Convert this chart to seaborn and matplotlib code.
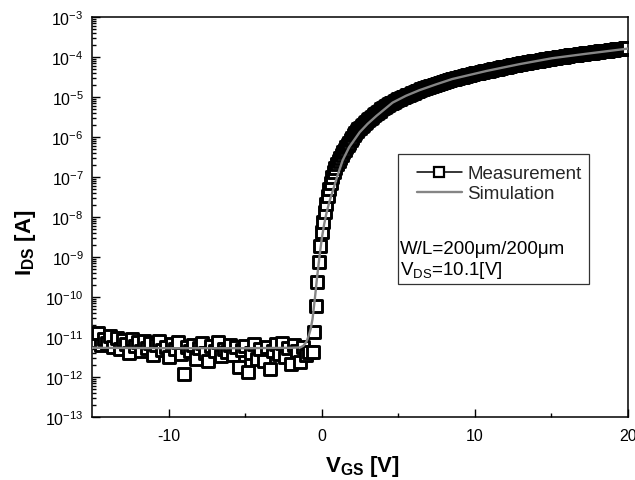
import numpy as np
import pandas as pd
import matplotlib
matplotlib.use("Agg")
import matplotlib.pyplot as plt
import seaborn as sns
from matplotlib.lines import Line2D
from matplotlib.patches import Rectangle
from matplotlib.ticker import LogLocator, NullFormatter, LogFormatterMathtext, FixedLocator

sns.set_theme(style="white")
plt.rcParams["font.family"] = ["Liberation Sans", "DejaVu Sans"]
plt.rcParams["mathtext.fontset"] = "custom"
plt.rcParams["mathtext.rm"] = "Liberation Sans"
plt.rcParams["mathtext.it"] = "Liberation Sans:italic"
plt.rcParams["mathtext.bf"] = "Liberation Sans:bold"
plt.rcParams["axes.unicode_minus"] = False

# ---- measured transfer curve, log10(IDS [A]) ----
# off-state segment: VGS sweep from -15 V in 0.2 V steps
vgs_off_start, vgs_off_step = -15.0, 0.2
log_ids_off = [
    -10.95, -11.10, -10.90, -11.20, -11.05, -11.15, -10.98, -11.25, -11.02, -11.30,
    -11.08, -11.18, -11.40, -11.05, -11.22, -11.12, -11.35, -11.10, -11.28, -11.15,
    -11.45, -11.20, -11.10, -11.32, -11.25, -11.50, -11.18, -11.30, -11.12, -11.42,
    -11.93, -11.25, -11.35, -11.20, -11.55, -11.28, -11.15, -11.40, -11.60, -11.22,
    -11.35, -11.12, -11.48, -11.30, -11.38, -11.20, -11.45, -11.25, -11.75, -11.32,
    -11.22, -11.88, -11.40, -11.18, -11.55, -11.30, -11.60, -11.25, -11.80, -11.35,
    -11.18, -11.42, -11.15, -11.50, -11.28, -11.68, -11.20, -11.35, -11.62, -11.25,
    -11.45, -11.38,
]
# turn-on segment: VGS sweep from -0.6 V in 0.1 V steps
vgs_on_start, vgs_on_step = -0.6, 0.1
log_ids_on = [
    -11.38, -10.88, -10.22, -9.63, -9.13, -8.73,
    -8.38, -8.13, -7.88, -7.68, -7.48, -7.30, -7.14, -7.00, -6.88, -6.77,
    -6.68, -6.60, -6.52, -6.45, -6.38, -6.32, -6.26, -6.20, -6.14, -6.08,
    -6.02, -5.96, -5.90, -5.85, -5.81, -5.77, -5.73, -5.69, -5.65, -5.62,
    -5.58, -5.55, -5.52, -5.49, -5.46, -5.43, -5.40, -5.37, -5.34, -5.31,
    -5.28, -5.26, -5.23, -5.21, -5.18, -5.16, -5.14, -5.12, -5.10, -5.08,
    -5.06, -5.04, -5.02, -5.00, -4.99, -4.97, -4.95, -4.94, -4.92, -4.90,
    -4.89, -4.87, -4.86, -4.84, -4.83, -4.81, -4.80, -4.78, -4.77, -4.76,
    -4.74, -4.73, -4.72, -4.70, -4.69, -4.68, -4.67, -4.66, -4.64, -4.63,
    -4.62, -4.61, -4.60, -4.58, -4.57, -4.56, -4.55, -4.54, -4.53, -4.52,
    -4.51, -4.50, -4.49, -4.48, -4.47, -4.46, -4.45, -4.44, -4.43, -4.42,
    -4.41, -4.40, -4.39, -4.39, -4.38, -4.37, -4.36, -4.35, -4.34, -4.34,
    -4.33, -4.32, -4.31, -4.30, -4.29, -4.29, -4.28, -4.27, -4.26, -4.25,
    -4.25, -4.24, -4.23, -4.22, -4.21, -4.21, -4.20, -4.19, -4.18, -4.18,
    -4.17, -4.16, -4.16, -4.15, -4.14, -4.13, -4.13, -4.12, -4.11, -4.11,
    -4.10, -4.09, -4.09, -4.08, -4.07, -4.07, -4.06, -4.05, -4.05, -4.04,
    -4.03, -4.03, -4.02, -4.02, -4.01, -4.00, -4.00, -3.99, -3.99, -3.98,
    -3.97, -3.97, -3.96, -3.96, -3.95, -3.95, -3.94, -3.94, -3.93, -3.93,
    -3.92, -3.92, -3.91, -3.91, -3.90, -3.90, -3.89, -3.89, -3.88, -3.88,
    -3.87, -3.87, -3.86, -3.86, -3.85, -3.85, -3.84, -3.84, -3.83, -3.83,
    -3.82, -3.82, -3.81, -3.81, -3.80, -3.80, -3.79, -3.79, -3.78, -3.78,
    -3.77,
]

# ---- simulated transfer curve ----
vgs_sim = [-15.0, -10.0, -5.0, -2.0, -1.4, -1.2, -1.0, -0.85, -0.72, -0.6,
           -0.45, -0.3, -0.15, 0.0, 0.15, 0.3, 0.5, 0.72, 1.0, 1.37,
           1.8, 2.48, 3.0, 3.58, 4.63, 5.5, 6.38, 7.5, 8.53, 10.75,
           12.9, 15.05, 17.26, 20.0]
log_ids_sim = [-11.27, -11.28, -11.28, -11.27, -11.26, -11.22, -11.12, -10.97, -10.80, -10.55,
               -10.05, -9.50, -9.00, -8.55, -8.20, -7.92, -7.62, -7.35, -7.00, -6.58,
               -6.25, -5.88, -5.67, -5.47, -5.14, -4.97, -4.83, -4.68, -4.55, -4.35,
               -4.18, -4.03, -3.92, -3.79]

vgs_off = np.round(vgs_off_start + vgs_off_step * np.arange(len(log_ids_off)), 2)
vgs_on = np.round(vgs_on_start + vgs_on_step * np.arange(len(log_ids_on)), 2)

meas = pd.DataFrame({
    "VGS": np.concatenate([vgs_off, vgs_on]),
    "IDS": 10.0 ** np.concatenate([log_ids_off, log_ids_on]),
})
sim = pd.DataFrame({"VGS": vgs_sim, "IDS": 10.0 ** np.array(log_ids_sim)})

fig = plt.figure(figsize=(6.35, 4.81), dpi=100)
ax = fig.add_axes([92 / 635, 1 - 418 / 481, 536 / 635, 400 / 481])

sns.scatterplot(data=meas, x="VGS", y="IDS", marker="s", s=66, color="white",
                edgecolor="black", linewidth=2.1, legend=False, ax=ax, zorder=2)
sns.lineplot(data=sim, x="VGS", y="IDS", color="#858585", linewidth=1.7,
             errorbar=None, legend=False, ax=ax, zorder=3)

ax.set_yscale("log")
ax.set_xlim(-15, 20)
ax.set_ylim(1e-13, 1e-3)

# ticks
ax.set_xticks([-10, 0, 10, 20])
ax.set_xticklabels(["-10", "0", "10", "20"])
ax.xaxis.set_minor_locator(FixedLocator([-5, 5, 15]))
ax.yaxis.set_major_locator(LogLocator(base=10, numticks=15))
ax.yaxis.set_minor_locator(LogLocator(base=10, subs=np.arange(2, 10), numticks=15))
ax.yaxis.set_major_formatter(LogFormatterMathtext())
ax.yaxis.set_minor_formatter(NullFormatter())
ax.tick_params(which="both", direction="in", bottom=True, left=True, top=False, right=False,
               color="black", labelcolor="black", width=1.0)
ax.tick_params(which="major", length=5.5, labelsize=11.5)
ax.tick_params(which="minor", length=3)
ax.tick_params(axis="x", which="major", pad=8)
ax.tick_params(axis="y", which="major", pad=6)

for sp in ax.spines.values():
    sp.set_visible(True)
    sp.set_color("black")
    sp.set_linewidth(1.1)

ax.set_xlabel(r"$\mathbf{V}_{\mathbf{GS}}$ [V]", fontsize=16, fontweight="bold", color="black")
ax.set_ylabel(r"$\mathbf{I}_{\mathbf{DS}}$ [A]", fontsize=16, fontweight="bold", color="black")
ax.xaxis.set_label_coords(0.505, -0.09)
ax.yaxis.set_label_coords(-0.1, 0.4375)

# legend panel with device conditions
ax.add_patch(Rectangle((0.571, 0.3325), 0.356, 0.325, transform=ax.transAxes,
                       facecolor="white", edgecolor="#333333", linewidth=0.9, zorder=4))
h_meas = Line2D([], [], color="black", lw=1.1, marker="s", markersize=7.5,
                markerfacecolor="white", markeredgecolor="black", markeredgewidth=1.6)
h_sim = Line2D([], [], color="#858585", lw=1.7)
leg = ax.legend([h_meas, h_sim], ["Measurement", "Simulation"], loc="upper left",
                bbox_to_anchor=(0.606, 0.63), frameon=False, fontsize=13.5,
                handlelength=2.4, handletextpad=0.28, labelspacing=0.15,
                borderpad=0, borderaxespad=0)
leg.set_zorder(5)
ax.text(0.575, 0.41, "W/L=200\u03bcm/200\u03bcm", transform=ax.transAxes,
        fontsize=13.5, ha="left", va="baseline", color="black", zorder=6)
ax.text(0.575, 0.3575, r"V$_{\mathrm{DS}}$=10.1[V]", transform=ax.transAxes,
        fontsize=13.5, ha="left", va="baseline", color="black", zorder=6)

fig.savefig("out.png", dpi=100, facecolor="white")
